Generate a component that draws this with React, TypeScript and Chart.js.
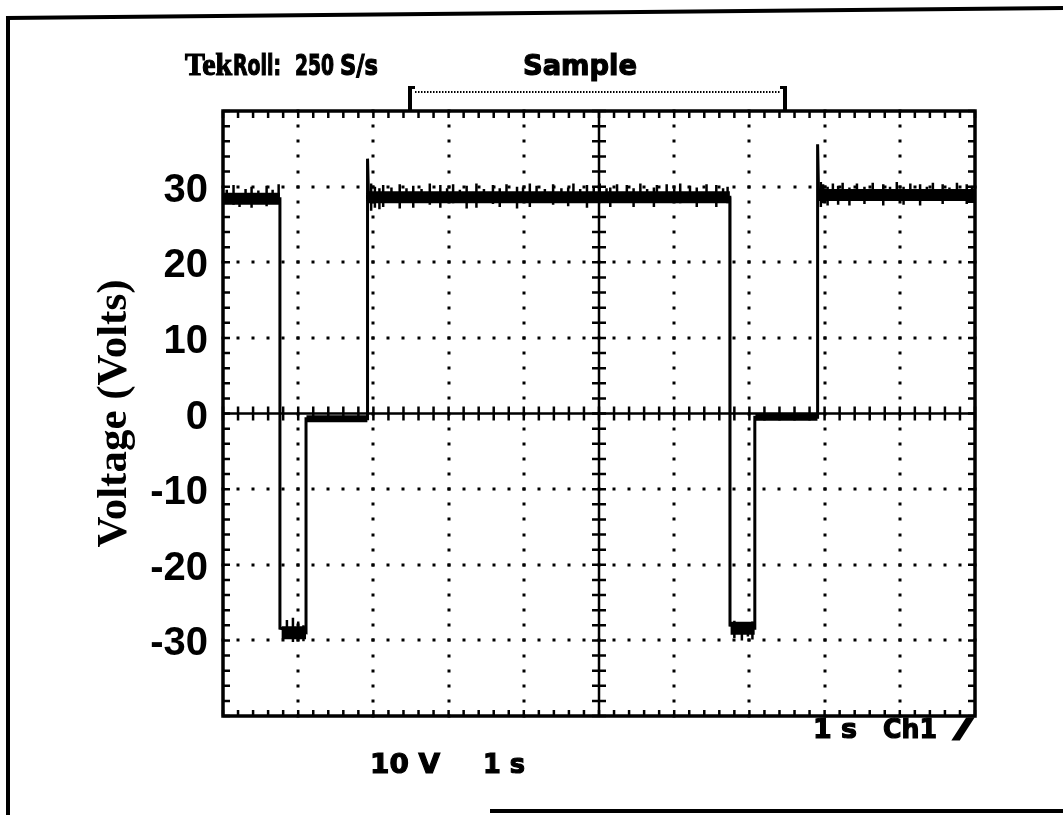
import React, { useEffect, useRef } from "react";
import { Chart, registerables } from "chart.js";

Chart.register(...registerables);

// ---- Axis ranges (1 s/div, 10 V/div) ----
const X_MIN = 0;
const X_MAX = 10;
const Y_MIN = -40;
const Y_MAX = 40;
const Y_TICKS = [-30, -20, -10, 0, 10, 20, 30];
const Y_TITLE = "Voltage (Volts)";

// ---- Main thin trace (time in s, volts) ----
const TRACE_T = [0, 0.757, 0.757, 1.104, 1.104, 1.92, 1.922, 1.935, 6.74, 6.742, 7.07, 7.072, 7.905, 7.907, 7.92, 10];
const TRACE_V = [28.4, 28.4, -28.4, -29.0, -0.7, -0.7, 33.7, 28.6, 28.6, -28.0, -28.4, -0.5, -0.5, 35.6, 28.9, 28.9];

// ---- Flat levels (thick, noisy bands) ----
const HIGH_START = [0, 1.94, 7.92];
const HIGH_END = [0.757, 6.74, 10];
const HIGH_LEVEL = [28.4, 28.6, 28.9];

const LOW_START = [0.78, 6.75];
const LOW_END = [1.104, 7.07];
const LOW_LEVEL = [-29.0, -28.4];

const ZERO_START = [1.11, 7.08];
const ZERO_END = [1.92, 7.905];
const ZERO_LEVEL = [-0.7, -0.5];

// ---- Noise spikes (time, low, high) ----
const SPIKE_T = [
  0.05, 0.14, 0.22, 0.30, 0.38, 0.47, 0.58, 0.66, 0.74,
  1.97, 2.02, 2.08, 2.13, 2.24, 2.35, 2.44, 2.53, 2.64, 2.75, 2.89, 2.98, 3.06, 3.15, 3.24, 3.37, 3.47, 3.59, 3.68, 3.77, 3.91, 3.99, 4.08, 4.17, 4.28, 4.39, 4.50, 4.59, 4.66, 4.75, 4.84, 4.93, 5.01, 5.10, 5.15, 5.24, 5.37, 5.46, 5.55, 5.64, 5.73, 5.77, 5.90, 6.00, 6.08, 6.21, 6.30, 6.43, 6.56, 6.65, 6.71,
  7.95, 7.98, 8.04, 8.11, 8.18, 8.24, 8.33, 8.43, 8.53, 8.64, 8.78, 8.87, 8.96, 9.05, 9.14, 9.27, 9.36, 9.44, 9.57, 9.66, 9.76, 9.89, 9.96,
  0.85, 0.93, 1.00, 1.07, 6.80, 6.90, 6.98, 7.04,
];
const SPIKE_LO = [
  28.0, 27.6, 27.3, 28.0, 27.2, 28.0, 27.4, 28.0, 27.8,
  26.8, 27.2, 27.0, 27.3, 27.9, 27.1, 28.0, 27.2, 27.9, 27.6, 27.2, 28.0, 27.8, 28.0, 27.1, 27.2, 28.0, 27.7, 27.3, 27.9, 27.1, 28.0, 27.3, 27.9, 28.0, 27.6, 28.0, 27.4, 27.9, 28.0, 27.2, 28.0, 27.8, 28.0, 27.3, 27.9, 28.0, 27.3, 27.9, 28.0, 27.3, 27.9, 28.0, 27.9, 27.8, 27.9, 27.3, 28.0, 27.3, 28.0, 27.8,
  27.3, 27.8, 27.5, 28.2, 27.6, 28.2, 27.5, 28.2, 27.7, 28.1, 27.5, 28.2, 28.1, 27.6, 28.2, 27.5, 28.2, 28.1, 27.7, 28.2, 28.1, 27.7, 28.2,
  -29.8, -30.2, -29.8, -30.1, -29.7, -30.0, -29.5, -29.9,
];
const SPIKE_HI = [
  29.6, 30.2, 29.0, 29.7, 30.0, 29.5, 30.1, 29.6, 30.3,
  30.4, 30.0, 29.8, 30.2, 29.9, 30.3, 29.8, 30.1, 29.7, 30.4, 30.2, 29.8, 30.3, 29.6, 30.1, 30.4, 29.7, 30.2, 29.8, 30.3, 30.0, 29.9, 30.4, 30.1, 29.7, 30.3, 29.8, 29.9, 30.4, 29.7, 30.2, 29.9, 30.4, 29.8, 29.9, 30.3, 30.2, 29.8, 30.4, 29.7, 29.9, 30.2, 30.3, 29.8, 30.4, 30.1, 29.9, 30.3, 30.2, 29.8, 30.0,
  30.6, 30.3, 30.0, 30.4, 30.1, 30.5, 29.9, 30.4, 30.0, 30.5, 30.3, 30.0, 30.6, 30.0, 30.4, 30.3, 30.0, 30.5, 30.3, 29.9, 30.5, 30.3, 30.1,
  -27.3, -27.0, -27.5, -28.0, -27.4, -27.6, -27.9, -27.5,
];

type P = { x: number; y: number | null };

function bandPoints(starts: number[], ends: number[], levels: number[]): P[] {
  const out: P[] = [];
  starts.forEach((s, i) => {
    out.push({ x: s, y: levels[i] });
    out.push({ x: ends[i], y: levels[i] });
    out.push({ x: ends[i], y: null });
  });
  return out;
}

function spikePoints(): P[] {
  const out: P[] = [];
  SPIKE_T.forEach((t, i) => {
    out.push({ x: t, y: SPIKE_LO[i] });
    out.push({ x: t, y: SPIKE_HI[i] });
    out.push({ x: t, y: null });
  });
  return out;
}

function drawFit(ctx: CanvasRenderingContext2D, text: string, x: number, baseline: number, width: number, font: string) {
  ctx.save();
  ctx.font = font;
  ctx.textAlign = "left";
  ctx.textBaseline = "alphabetic";
  const w = ctx.measureText(text).width;
  ctx.translate(x, baseline);
  ctx.scale(width / w, 1);
  ctx.lineWidth = 1.2;
  ctx.lineJoin = "miter";
  ctx.fillText(text, 0, 0);
  ctx.strokeText(text, 0, 0);
  ctx.restore();
}

const graticule = {
  id: "graticule",
  beforeDatasetsDraw(chart: any) {
    const { ctx, chartArea: a, scales } = chart;
    const xs = scales.x;
    const ys = scales.y;
    ctx.save();
    ctx.fillStyle = "#000";
    ctx.strokeStyle = "#000";

    const majorX = [1, 2, 3, 4, 6, 7, 8, 9];
    const majorY = [-30, -20, -10, 10, 20, 30];
    // dotted graticule
    for (let i = 0; i <= 50; i++) {
      const px = xs.getPixelForValue(i * 0.2);
      for (const v of majorY) {
        const py = ys.getPixelForValue(v);
        ctx.fillRect(Math.round(px) - 1.5, Math.round(py) - 1.5, 3, 3);
      }
    }
    for (let j = 0; j <= 40; j++) {
      const py = ys.getPixelForValue(-40 + j * 2);
      for (const t of majorX) {
        const px = xs.getPixelForValue(t);
        ctx.fillRect(Math.round(px) - 1.5, Math.round(py) - 1.5, 3, 3);
      }
    }

    // centre cross
    const cx = xs.getPixelForValue(5);
    const cy = ys.getPixelForValue(0);
    ctx.lineWidth = 2.5;
    ctx.beginPath();
    ctx.moveTo(cx, a.top);
    ctx.lineTo(cx, a.bottom);
    ctx.moveTo(a.left, cy);
    ctx.lineTo(a.right, cy);
    ctx.stroke();

    ctx.beginPath();
    for (let i = 0; i <= 50; i++) {
      const px = xs.getPixelForValue(i * 0.2);
      ctx.moveTo(px, cy - 7);
      ctx.lineTo(px, cy + 7);
      ctx.moveTo(px, a.top);
      ctx.lineTo(px, a.top + 7);
      ctx.moveTo(px, a.bottom);
      ctx.lineTo(px, a.bottom - 6);
    }
    for (let j = 0; j <= 40; j++) {
      const py = ys.getPixelForValue(-40 + j * 2);
      ctx.moveTo(cx - 7, py);
      ctx.lineTo(cx + 7, py);
      ctx.moveTo(a.left, py);
      ctx.lineTo(a.left + 7, py);
      ctx.moveTo(a.right, py);
      ctx.lineTo(a.right - 7, py);
    }
    ctx.stroke();

    // frame
    ctx.lineWidth = 3.5;
    ctx.strokeRect(a.left, a.top, a.right - a.left, a.bottom - a.top);
    ctx.restore();
  },
  afterDraw(chart: any) {
    const { ctx } = chart;
    ctx.save();
    ctx.fillStyle = "#000";
    ctx.strokeStyle = "#000";

    // page frame
    ctx.lineWidth = 4;
    ctx.beginPath();
    ctx.moveTo(6, 18);
    ctx.lineTo(1063, 8);
    ctx.moveTo(8, 16);
    ctx.lineTo(8, 815);
    ctx.moveTo(490, 811);
    ctx.lineTo(1063, 811);
    ctx.stroke();

    // header text
    drawFit(ctx, "Tek", 185, 75, 47, "bold 31px 'Liberation Serif'");
    const tek = "bold 28px 'DejaVu Sans'";
    drawFit(ctx, "Roll:", 233, 75, 48, tek);
    drawFit(ctx, "250", 295, 75, 39, tek);
    drawFit(ctx, "S/s", 340, 75, 38, tek);
    drawFit(ctx, "Sample", 523, 75, 114, "bold 28px 'DejaVu Sans'");

    // record window bracket
    ctx.fillRect(408, 86, 4, 25);
    ctx.fillRect(408, 86, 7, 3);
    ctx.fillRect(783, 86, 4, 25);
    ctx.fillRect(780, 86, 7, 3);
    ctx.lineWidth = 2;
    ctx.setLineDash([1.5, 1.5]);
    ctx.beginPath();
    ctx.moveTo(415, 92);
    ctx.lineTo(780, 92);
    ctx.stroke();
    ctx.setLineDash([]);

    // readouts
    const ro = "bold 27px 'DejaVu Sans'";
    drawFit(ctx, "1 s", 813, 738, 44, ro);
    drawFit(ctx, "Ch1", 883, 738, 54, ro);
    drawFit(ctx, "/", 953, 738, 20, ro);
    drawFit(ctx, "10 V", 370, 773, 70, ro);
    drawFit(ctx, "1 s", 483, 773, 42, ro);
    ctx.restore();
  },
};

export default function App() {
  const ref = useRef<HTMLCanvasElement | null>(null);

  useEffect(() => {
    if (!ref.current) return;
    const trace: P[] = TRACE_T.map((t, i) => ({ x: t, y: TRACE_V[i] }));
    const chart = new Chart(ref.current, {
      type: "line",
      data: {
        datasets: [
          {
            data: bandPoints(HIGH_START, HIGH_END, HIGH_LEVEL) as any,
            borderColor: "#000",
            borderWidth: 12,
            borderCapStyle: "butt",
            pointRadius: 0,
            spanGaps: false,
          },
          {
            data: bandPoints(LOW_START, LOW_END, LOW_LEVEL) as any,
            borderColor: "#000",
            borderWidth: 13,
            borderCapStyle: "butt",
            pointRadius: 0,
            spanGaps: false,
          },
          {
            data: bandPoints(ZERO_START, ZERO_END, ZERO_LEVEL) as any,
            borderColor: "#000",
            borderWidth: 7,
            borderCapStyle: "butt",
            pointRadius: 0,
            spanGaps: false,
          },
          {
            data: trace as any,
            borderColor: "#000",
            borderWidth: 3,
            borderJoinStyle: "miter",
            pointRadius: 0,
            tension: 0,
          },
          {
            data: spikePoints() as any,
            borderColor: "#000",
            borderWidth: 2.5,
            borderCapStyle: "butt",
            pointRadius: 0,
            spanGaps: false,
          },
        ],
      },
      options: {
        animation: false,
        responsive: false,
        devicePixelRatio: 1,
        layout: { padding: { left: 0, top: 111, right: 88, bottom: 0 } },
        plugins: { legend: { display: false }, tooltip: { enabled: false }, title: { display: false } },
        scales: {
          x: {
            type: "linear",
            min: X_MIN,
            max: X_MAX,
            grid: { display: false, drawTicks: false },
            border: { display: false },
            ticks: { display: false },
            afterFit: (s: any) => {
              s.height = 99;
              s.paddingLeft = 0;
              s.paddingRight = 0;
            },
          },
          y: {
            type: "linear",
            min: Y_MIN,
            max: Y_MAX,
            grid: { display: false, drawTicks: false },
            border: { display: false },
            afterBuildTicks: (s: any) => {
              s.ticks = Y_TICKS.map((v) => ({ value: v }));
            },
            ticks: {
              color: "#000",
              padding: 15,
              labelOffset: 4,
              font: { family: "'Liberation Sans', Arial, sans-serif", weight: "bold", size: 40 },
              callback: (v: any) => String(v),
            },
            title: {
              display: true,
              text: Y_TITLE,
              color: "#000",
              font: { family: "'Liberation Serif', 'Times New Roman', serif", weight: "bold", size: 43, lineHeight: 1.2 },
              padding: { top: 89, bottom: 0 },
            },
            afterFit: (s: any) => {
              s.width = 223;
              s.paddingTop = 0;
              s.paddingBottom = 0;
            },
          },
        },
      },
      plugins: [graticule],
    });
    return () => chart.destroy();
  }, []);

  return (
    <div style={{ position: "fixed", left: 0, top: 0, width: 1063, height: 815, background: "#fff" }}>
      <canvas ref={ref} width={1063} height={815} style={{ display: "block" }} />
    </div>
  );
}
